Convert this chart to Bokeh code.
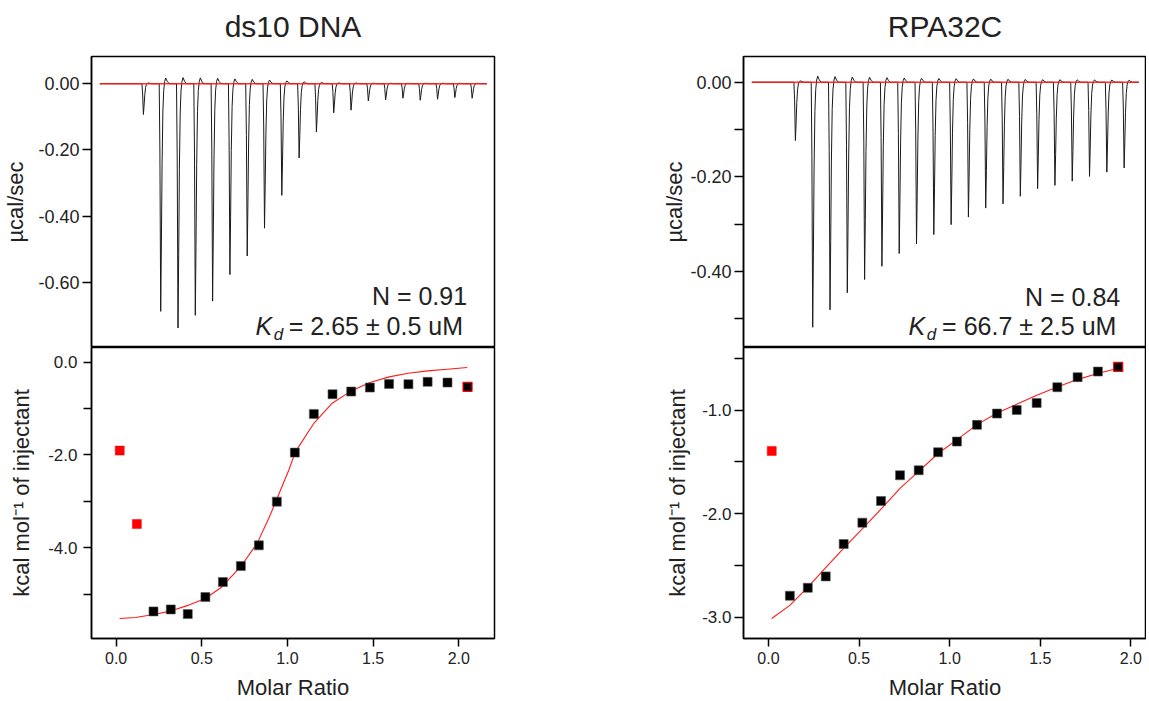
from bokeh.plotting import figure
from bokeh.layouts import row, column
from bokeh.models import Range1d, FixedTicker, Label, LinearAxis
from bokeh.embed import file_html
from bokeh.resources import INLINE

FONT = "Liberation Sans"
TXT = "#222222"

# ---------------- data ----------------
# raw thermograms: injection times (min) and peak heights (ucal/sec)
inj_time = [9, 12, 15, 18, 21, 24, 27, 30, 33, 36, 39, 42, 45, 48, 51, 54, 57, 60, 63, 66]
dna_peak = [-0.093, -0.687, -0.737, -0.699, -0.656, -0.576, -0.520, -0.436, -0.337, -0.224,
            -0.146, -0.088, -0.080, -0.052, -0.049, -0.044, -0.050, -0.047, -0.042, -0.044]
rpa_peak = [-0.123, -0.518, -0.481, -0.445, -0.417, -0.389, -0.362, -0.342, -0.322, -0.301,
            -0.285, -0.266, -0.257, -0.241, -0.225, -0.218, -0.209, -0.199, -0.190, -0.181]
# common peak profile (offset in min, fraction of peak height)
shape_dt = [-0.26, -0.14, 0.0, 0.12, 0.24, 0.38, 0.52, 0.69, 0.87, 1.13, 1.47]
shape_frac = [0.0, 0.3, 1.0, 0.7, 0.35, 0.12, 0.03, -0.01, -0.025, -0.01, 0.0]
trace_span = [1.44, 68.55]
baseline_y = [0.0, 0.0]

# integrated heats
dna_ratio = [0.021, 0.121, 0.218, 0.319, 0.418, 0.521, 0.623, 0.728, 0.833, 0.938,
             1.043, 1.154, 1.263, 1.372, 1.481, 1.593, 1.706, 1.818, 1.934, 2.051]
dna_heat = [-1.906, -3.489, -5.374, -5.331, -5.432, -5.065, -4.741, -4.396, -3.950, -3.007,
            -1.950, -1.115, -0.691, -0.633, -0.547, -0.468, -0.475, -0.424, -0.439, -0.532]
dna_fit_x = [0.020, 0.113, 0.220, 0.317, 0.424, 0.521, 0.619, 0.726, 0.823, 0.891, 0.940,
             1.008, 1.047, 1.154, 1.261, 1.372, 1.481, 1.594, 1.705, 1.818, 1.933, 2.049]
dna_fit_y = [-5.526, -5.504, -5.439, -5.367, -5.238, -5.094, -4.842, -4.410, -3.907, -3.367,
             -2.935, -2.324, -1.928, -1.317, -0.885, -0.619, -0.439, -0.317, -0.237, -0.187,
             -0.151, -0.115]

rpa_ratio = [0.018, 0.118, 0.217, 0.316, 0.415, 0.518, 0.621, 0.726, 0.829, 0.936,
             1.040, 1.151, 1.261, 1.370, 1.480, 1.594, 1.706, 1.818, 1.930]
rpa_heat = [-1.394, -2.791, -2.714, -2.604, -2.292, -2.086, -1.877, -1.629, -1.581, -1.407,
            -1.304, -1.143, -1.034, -0.999, -0.931, -0.780, -0.683, -0.629, -0.584]
rpa_fit_x = [0.018, 0.119, 0.211, 0.312, 0.414, 0.515, 0.625, 0.726, 0.827, 0.938, 1.039,
             1.149, 1.259, 1.370, 1.471, 1.590, 1.700, 1.811, 1.930]
rpa_fit_y = [-3.010, -2.881, -2.720, -2.527, -2.334, -2.151, -1.948, -1.755, -1.594, -1.417,
             -1.288, -1.143, -1.031, -0.944, -0.864, -0.780, -0.709, -0.651, -0.597]

# tick labels
x_ticks = [0.0, 0.5, 1.0, 1.5, 2.0]
x_labels = ["0.0", "0.5", "1.0", "1.5", "2.0"]
tl_ticks = [0.0, -0.2, -0.4, -0.6]
tl_labels = ["0.00", "-0.20", "-0.40", "-0.60"]
bl_ticks = [0.0, -1.0, -2.0, -3.0, -4.0, -5.0]
bl_labels = ["0.0", "", "-2.0", "", "-4.0", ""]
tr_ticks = [0.0, -0.1, -0.2, -0.3, -0.4, -0.5]
tr_labels = ["0.00", "", "-0.20", "", "-0.40", ""]
br_ticks = [-0.5, -1.0, -1.5, -2.0, -2.5, -3.0]
br_labels = ["", "-1.0", "", "-2.0", "", "-3.0"]


def make_trace(times, peaks):
    xs = [trace_span[0]]
    ys = [0.0]
    for t0, h in zip(times, peaks):
        for dt, f in zip(shape_dt, shape_frac):
            xs.append(t0 + dt)
            ys.append(h * f)
    xs.append(trace_span[1])
    ys.append(0.0)
    return xs, ys


def style_axis(ax, ticks, labels, text, standoff, label_size, tick_len, lab_standoff):
    ax.ticker = FixedTicker(ticks=ticks)
    ax.major_label_overrides = dict(zip(ticks, labels))
    ax.axis_label = text
    ax.axis_label_standoff = standoff
    ax.axis_label_text_font = FONT
    ax.axis_label_text_font_size = "22px"
    ax.axis_label_text_font_style = "normal"
    ax.axis_label_text_color = TXT
    ax.major_label_text_font = FONT
    ax.major_label_text_font_size = label_size
    ax.major_label_text_color = TXT
    ax.major_label_standoff = lab_standoff
    ax.major_tick_out = tick_len
    ax.major_tick_in = 0
    ax.minor_tick_line_color = None
    ax.major_tick_line_width = 1.5
    ax.major_tick_line_color = "black"
    ax.axis_line_width = 1.5
    ax.axis_line_color = "black"


def base_fig(xr, yr, mbl, mbr, mbt, mbb, xaxis=True):
    kw = dict(frame_width=403, frame_height=291, x_range=Range1d(*xr), y_range=Range1d(*yr),
              output_backend="svg", toolbar_location=None,
              min_border_left=mbl, min_border_right=mbr, min_border_top=mbt,
              min_border_bottom=mbb, background_fill_color="white",
              border_fill_color="white")
    if not xaxis:
        kw["x_axis_location"] = None
    p = figure(**kw)
    p.grid.visible = False
    p.outline_line_color = "black"
    p.outline_line_width = 1.5
    p.outline_line_alpha = 1.0
    return p


def thermo(title, peaks, yr, ticks, labels, standoff, mbl, mbr, n_text, kd_text, ann):
    p = base_fig((0.0, 69.88), yr, mbl, mbr, 56, 0, xaxis=False)
    xs, ys = make_trace(inj_time, peaks)
    p.line(xs, ys, line_color="#1a1a1a", line_width=1)
    p.line(trace_span, baseline_y, line_color="#ff1a1a", line_width=1.5, line_alpha=0.9)
    style_axis(p.yaxis[0], ticks, labels, "µcal/sec", standoff, "18px", 9, 3)
    # panel title as the label of an empty top axis
    top = LinearAxis(ticker=FixedTicker(ticks=[]), axis_label=title,
                     axis_line_color=None, major_tick_line_color=None,
                     minor_tick_line_color=None, major_label_text_font_size="0px",
                     major_tick_out=0, major_tick_in=0, major_label_standoff=0,
                     axis_label_standoff=14, axis_label_text_font=FONT,
                     axis_label_text_font_size="30px", axis_label_text_font_style="normal",
                     axis_label_text_color=TXT)
    p.add_layout(top, "above")
    nx, ny, kx, dx, eqx, ky, dy = ann
    p.add_layout(Label(x=nx, y=ny, text=n_text, text_font=FONT, text_font_size="25px",
                       text_color=TXT, text_align="right", text_baseline="alphabetic"))
    p.add_layout(Label(x=kx, y=ky, text="K", text_font=FONT, text_font_size="25px",
                       text_font_style="italic", text_color=TXT, text_baseline="alphabetic"))
    p.add_layout(Label(x=dx, y=dy, text="d", text_font=FONT, text_font_size="17px",
                       text_font_style="italic", text_color=TXT, text_baseline="alphabetic"))
    p.add_layout(Label(x=eqx, y=ky, text=kd_text, text_font=FONT, text_font_size="25px",
                       text_color=TXT, text_baseline="alphabetic"))
    return p


def heats(rx, hy, fx, fy, excl_first, xr, yr, ticks, labels, standoff, mbl, mbr,
          tick_len, lab_standoff):
    p = base_fig(xr, yr, mbl, mbr, 0, 63)
    p.line(fx, fy, line_color="red", line_width=1.1, line_alpha=0.9)
    nb = len(rx) - 1
    p.scatter(rx[:excl_first], hy[:excl_first], marker="square", size=9,
              fill_color="red", line_color="red", line_width=0.5)
    p.scatter(rx[excl_first:nb], hy[excl_first:nb], marker="square", size=9,
              fill_color="black", line_color="#555555", line_width=0.6)
    p.scatter(rx[nb:], hy[nb:], marker="square", size=9,
              fill_color="black", line_color="red", line_width=1.2)
    style_axis(p.yaxis[0], ticks, labels, "kcal mol⁻¹ of injectant", standoff, "17px",
               tick_len, lab_standoff)
    style_axis(p.xaxis[0], x_ticks, x_labels, "Molar Ratio", 8, "16px", 8, 5)
    return p


tl = thermo("ds10 DNA", dna_peak, (-0.796, 0.082), tl_ticks, tl_labels, 7, 88, 148,
            "N = 0.91", "= 2.65 ± 0.5 uM",
            (65.13, -0.642, 28.44, 31.61, 34.2, -0.7324, -0.7565))
tr = thermo("RPA32C", rpa_peak, (-0.5607, 0.0545), tr_ticks, tr_labels, 0, 101, 0,
            "N = 0.84", "= 66.7 ± 2.5 uM",
            (65.32, -0.4529, 28.61, 31.78, 34.44, -0.5163, -0.5332))
bl = heats(dna_ratio, dna_heat, dna_fit_x, dna_fit_y, 2, (-0.1438, 2.2084), (-5.958, 0.3166),
           bl_ticks, bl_labels, 11, 88, 148, 8, 6)
br = heats(rpa_ratio, rpa_heat, rpa_fit_x, rpa_fit_y, 1, (-0.1379, 2.0862), (-3.203, -0.397),
           br_ticks, br_labels, 9, 101, 0, 9, 3)

layout = row(column(tl, bl, spacing=0), column(tr, br, spacing=0), spacing=0)

open("out.html", "w").write(file_html(layout, INLINE))
